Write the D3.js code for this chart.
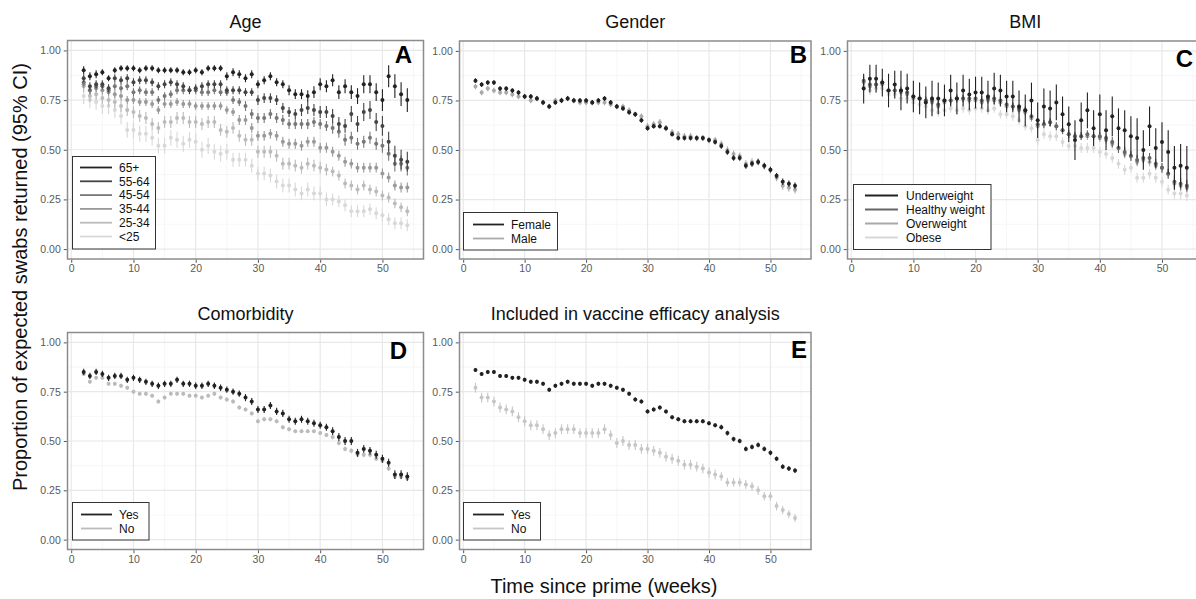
<!DOCTYPE html>
<html><head><meta charset="utf-8">
<script src="https://cdn.jsdelivr.net/npm/d3@7"></script>
<style>body{margin:0;background:#fff} text{font-family:"Liberation Sans",Arial,sans-serif}</style>
</head><body><svg id="c" width="1196" height="599"></svg>
<script>
const weeks = [2,3,4,5,6,7,8,9,10,11,12,13,14,15,16,17,18,19,20,21,22,23,24,25,26,27,28,29,30,31,32,33,34,35,36,37,38,39,40,41,42,43,44,45,46,47,48,49,50,51,52,53,54];
const yTicks = [0, 0.25, 0.5, 0.75, 1];
const xTicks = [0, 10, 20, 30, 40, 50];

// ---- Panel A: Age ----
const ageGroups = ["65+","55-64","45-54","35-44","25-34","<25"];
const age65 = [0.90,0.87,0.88,0.89,0.86,0.90,0.91,0.91,0.91,0.90, 0.91,0.91,0.90,0.90,0.90,0.90,0.89,0.89,0.90,0.89, 0.91,0.91,0.91,0.87,0.89,0.88,0.86,0.88,0.83,0.85, 0.87,0.84,0.83,0.80,0.78,0.78,0.77,0.79,0.83,0.82, 0.85,0.79,0.82,0.79,0.77,0.83,0.83,0.79,0.75,0.87, 0.82,0.78,0.75];
const age65ci = [.02,.02,.02,.015,.015,.015,.015,.015,.015,.015, .015,.015,.015,.015,.015,.015,.015,.015,.015,.015, .015,.015,.015,.02,.02,.02,.02,.02,.02,.02, .02,.02,.02,.025,.025,.025,.03,.03,.03,.03, .03,.035,.035,.035,.04,.045,.045,.045,.055,.055, .06,.06,.06];
const age5564 = [0.86,0.82,0.83,0.83,0.81,0.86,0.85,0.86,0.84,0.85, 0.85,0.84,0.82,0.83,0.84,0.83,0.82,0.80,0.81,0.82, 0.83,0.83,0.83,0.80,0.80,0.80,0.79,0.79,0.75,0.76, 0.76,0.75,0.71,0.69,0.68,0.70,0.71,0.70,0.69,0.69, 0.67,0.63,0.62,0.68,0.63,0.69,0.70,0.64,0.62,0.54, 0.47,0.45,0.44];
const age5564ci = [.02,.02,.02,.02,.02,.02,.02,.02,.02,.02, .02,.02,.02,.02,.02,.02,.02,.02,.02,.02, .02,.02,.02,.02,.02,.02,.02,.02,.025,.025, .025,.025,.025,.025,.025,.03,.03,.03,.03,.03, .035,.035,.035,.04,.04,.045,.045,.045,.05,.05, .05,.05,.05];
const age4554 = [0.84,0.80,0.82,0.82,0.80,0.82,0.81,0.82,0.79,0.80, 0.79,0.79,0.75,0.77,0.78,0.80,0.80,0.80,0.80,0.79, 0.79,0.80,0.79,0.79,0.75,0.74,0.72,0.68,0.66,0.66, 0.68,0.66,0.65,0.63,0.63,0.63,0.63,0.64,0.63,0.62, 0.61,0.59,0.55,0.56,0.53,0.54,0.56,0.53,0.52,0.48, 0.43,0.43,0.41];
const age4554ci = [.02,.02,.02,.02,.02,.02,.02,.02,.02,.02, .02,.02,.02,.02,.02,.02,.02,.02,.02,.02, .02,.02,.02,.02,.02,.02,.025,.025,.025,.025, .025,.025,.025,.025,.025,.025,.025,.025,.025,.025, .03,.03,.03,.03,.03,.03,.03,.03,.035,.035, .04,.04,.04];
const age3544 = [0.83,0.80,0.81,0.80,0.79,0.78,0.77,0.75,0.75,0.74, 0.74,0.73,0.70,0.73,0.73,0.74,0.73,0.73,0.72,0.72, 0.72,0.72,0.72,0.70,0.69,0.65,0.65,0.61,0.57,0.57, 0.58,0.57,0.54,0.53,0.53,0.52,0.54,0.54,0.51,0.51, 0.49,0.47,0.44,0.43,0.41,0.41,0.41,0.41,0.38,0.36, 0.32,0.31,0.31];
const age3544ci = [.02,.02,.02,.02,.02,.02,.02,.02,.02,.02, .02,.02,.02,.02,.02,.02,.02,.02,.02,.02, .02,.02,.02,.02,.02,.025,.025,.025,.025,.025, .025,.025,.025,.025,.025,.025,.025,.025,.025,.025, .025,.025,.025,.025,.025,.025,.025,.025,.025,.025, .025,.025,.025];
const age2534 = [0.82,0.77,0.78,0.76,0.75,0.74,0.72,0.70,0.69,0.67, 0.66,0.63,0.61,0.64,0.64,0.66,0.66,0.64,0.64,0.63, 0.64,0.64,0.60,0.59,0.61,0.57,0.55,0.55,0.49,0.49, 0.49,0.47,0.43,0.43,0.42,0.41,0.43,0.42,0.41,0.40, 0.39,0.37,0.33,0.32,0.30,0.32,0.30,0.29,0.27,0.26, 0.23,0.21,0.19];
const age2534ci = [.03,.03,.03,.03,.03,.03,.03,.03,.03,.03, .03,.03,.03,.03,.03,.03,.03,.03,.03,.03, .03,.03,.03,.03,.03,.03,.03,.03,.03,.03, .03,.03,.03,.03,.03,.03,.03,.03,.03,.03, .025,.025,.025,.025,.025,.025,.025,.025,.025,.025, .025,.025,.025];
const ageU25 = [0.77,0.75,0.74,0.72,0.72,0.70,0.67,0.60,0.60,0.58, 0.58,0.56,0.52,0.52,0.56,0.55,0.53,0.55,0.54,0.50, 0.52,0.49,0.48,0.49,0.45,0.45,0.45,0.42,0.38,0.38, 0.37,0.34,0.32,0.32,0.30,0.28,0.30,0.28,0.28,0.25, 0.25,0.24,0.22,0.19,0.19,0.19,0.20,0.18,0.17,0.15, 0.13,0.13,0.12];
const ageU25ci = [.04,.04,.04,.04,.04,.04,.04,.04,.04,.04, .04,.04,.04,.04,.04,.04,.04,.04,.04,.04, .04,.04,.04,.04,.035,.035,.035,.035,.035,.035, .035,.035,.035,.035,.035,.035,.035,.035,.035,.035, .03,.03,.03,.03,.03,.03,.03,.03,.03,.03, .03,.03,.03];
const ageColors = ["#222222","#444444","#777777","#999999","#bbbbbb","#d8d8d8"];

// ---- Panel B: Gender ----
const genderGroups = ["Female","Male"];
const female = [0.85,0.83,0.84,0.84,0.81,0.81,0.80,0.79,0.77,0.77, 0.76,0.74,0.72,0.74,0.75,0.76,0.75,0.75,0.75,0.74, 0.75,0.76,0.74,0.72,0.71,0.69,0.68,0.65,0.61,0.62, 0.62,0.61,0.58,0.56,0.56,0.56,0.56,0.56,0.55,0.54, 0.52,0.49,0.46,0.46,0.42,0.43,0.44,0.42,0.40,0.37, 0.34,0.33,0.32];
const femaleCi = [.012,.012,.012,.012,.012,.012,.012,.012,.012,.012, .012,.012,.012,.012,.012,.012,.012,.012,.012,.012, .012,.012,.012,.012,.012,.012,.012,.012,.012,.012, .012,.012,.012,.012,.012,.012,.012,.012,.012,.012, .014,.014,.014,.014,.014,.014,.014,.014,.014,.014, .016,.016,.016];
const male = [0.82,0.79,0.81,0.80,0.79,0.79,0.78,0.77,0.77,0.75, 0.76,0.74,0.72,0.75,0.75,0.76,0.75,0.74,0.74,0.74, 0.74,0.74,0.73,0.72,0.72,0.70,0.68,0.67,0.62,0.63, 0.64,0.61,0.59,0.58,0.57,0.57,0.56,0.56,0.55,0.55, 0.53,0.50,0.48,0.47,0.43,0.44,0.44,0.42,0.40,0.36, 0.32,0.31,0.30];
const maleCi = [.014,.014,.014,.014,.014,.014,.014,.014,.014,.014, .014,.014,.014,.014,.014,.014,.014,.014,.014,.014, .014,.014,.014,.014,.014,.014,.014,.014,.016,.016, .016,.016,.016,.016,.016,.016,.016,.016,.016,.016, .018,.018,.018,.018,.018,.018,.018,.018,.018,.018, .02,.02,.02];
const genderColors = ["#222222","#aaaaaa"];

// ---- Panel C: BMI ----
const bmiGroups = ["Underweight","Healthy weight","Overweight","Obese"];
const under = [0.81,0.86,0.86,0.84,0.80,0.83,0.80,0.81,0.77,0.76, 0.74,0.76,0.76,0.75,0.80,0.76,0.80,0.78,0.79,0.79, 0.77,0.81,0.80,0.77,0.77,0.72,0.70,0.75,0.65,0.72, 0.71,0.74,0.68,0.63,0.55,0.65,0.70,0.61,0.68,0.60, 0.67,0.61,0.60,0.57,0.56,0.50,0.62,0.51,0.54,0.49, 0.41,0.42,0.41];
const underCi = [.075,.07,.07,.07,.085,.07,.1,.075,.08,.08, .08,.09,.08,.08,.08,.08,.08,.08,.08,.08, .08,.08,.08,.08,.08,.08,.08,.09,.09,.09, .09,.09,.09,.09,.1,.09,.09,.09,.1,.1, .1,.1,.1,.1,.1,.1,.1,.1,.1,.11, .11,.11,.11];
const healthy = [0.85,0.83,0.83,0.84,0.80,0.80,0.80,0.79,0.77,0.76, 0.75,0.75,0.73,0.75,0.75,0.76,0.76,0.76,0.76,0.75, 0.76,0.76,0.75,0.73,0.72,0.71,0.70,0.67,0.63,0.63, 0.64,0.62,0.60,0.58,0.57,0.57,0.58,0.57,0.57,0.56, 0.54,0.51,0.49,0.47,0.45,0.46,0.46,0.43,0.41,0.38, 0.34,0.33,0.32];
const healthyCi = [.02,.02,.02,.02,.02,.02,.02,.02,.02,.02, .02,.02,.02,.02,.02,.02,.02,.02,.02,.02, .02,.02,.02,.02,.02,.02,.02,.02,.02,.02, .02,.02,.02,.02,.02,.02,.02,.02,.02,.02, .025,.025,.025,.025,.025,.025,.025,.025,.025,.025, .03,.03,.03];
const over = [0.84,0.82,0.83,0.83,0.80,0.80,0.79,0.78,0.76,0.76, 0.75,0.74,0.72,0.74,0.75,0.76,0.76,0.75,0.75,0.74, 0.75,0.75,0.74,0.72,0.72,0.70,0.69,0.66,0.62,0.63, 0.64,0.62,0.60,0.58,0.57,0.57,0.57,0.57,0.56,0.55, 0.53,0.51,0.48,0.47,0.44,0.45,0.44,0.42,0.41,0.38, 0.33,0.32,0.31];
const overCi = [.018,.018,.018,.018,.018,.018,.018,.018,.018,.018, .018,.018,.018,.018,.018,.018,.018,.018,.018,.018, .018,.018,.018,.018,.018,.018,.018,.018,.02,.02, .02,.02,.02,.02,.02,.02,.02,.02,.02,.02, .022,.022,.022,.022,.022,.022,.022,.022,.022,.022, .025,.025,.025];
const obese = [0.82,0.80,0.81,0.81,0.78,0.78,0.76,0.76,0.74,0.73, 0.72,0.70,0.69,0.70,0.71,0.70,0.71,0.70,0.71,0.71, 0.70,0.71,0.68,0.68,0.67,0.65,0.62,0.61,0.55,0.58, 0.57,0.57,0.54,0.52,0.52,0.51,0.51,0.51,0.49,0.48, 0.46,0.43,0.40,0.41,0.36,0.36,0.38,0.36,0.34,0.30, 0.28,0.28,0.27];
const obeseCi = [.022,.022,.022,.022,.022,.022,.022,.022,.022,.022, .022,.022,.022,.022,.022,.022,.022,.022,.022,.022, .022,.022,.022,.022,.022,.022,.022,.022,.025,.025, .025,.025,.025,.025,.025,.025,.025,.025,.025,.025, .025,.025,.025,.025,.025,.025,.025,.025,.025,.025, .028,.028,.028];
const bmiColors = ["#222222","#666666","#a8a8a8","#d8d8d8"];

// ---- Panel D: Comorbidity ----
const comorbGroups = ["Yes","No"];
const comorbYes = [0.85,0.83,0.85,0.84,0.82,0.83,0.83,0.81,0.82,0.81, 0.80,0.79,0.78,0.79,0.79,0.81,0.79,0.79,0.78,0.78, 0.79,0.78,0.77,0.76,0.75,0.74,0.72,0.70,0.66,0.66, 0.68,0.65,0.64,0.61,0.60,0.61,0.60,0.59,0.58,0.57, 0.55,0.52,0.50,0.50,0.44,0.46,0.45,0.43,0.41,0.39, 0.33,0.33,0.32];
const comorbYesCi = [.016,.016,.016,.016,.016,.016,.016,.016,.016,.016, .016,.016,.016,.016,.016,.016,.016,.016,.016,.016, .016,.016,.016,.016,.016,.016,.018,.018,.018,.018, .018,.018,.018,.018,.018,.018,.018,.018,.018,.018, .02,.02,.02,.02,.02,.02,.02,.02,.02,.02, .022,.022,.022];
const comorbNo = [0.84,0.80,0.82,0.82,0.79,0.79,0.78,0.77,0.75,0.74, 0.74,0.73,0.70,0.72,0.74,0.74,0.74,0.73,0.73,0.72, 0.73,0.74,0.72,0.71,0.70,0.67,0.66,0.64,0.60,0.61, 0.61,0.60,0.57,0.56,0.55,0.55,0.55,0.55,0.54,0.53, 0.52,0.49,0.46,0.45,0.43,0.43,0.43,0.41,0.40,0.36, 0.32,0.32,0.31];
const comorbNoCi = [.01,.01,.01,.01,.01,.01,.01,.01,.01,.01, .01,.01,.01,.01,.01,.01,.01,.01,.01,.01, .01,.01,.01,.01,.01,.01,.01,.01,.01,.01, .01,.01,.01,.01,.01,.01,.01,.01,.01,.01, .012,.012,.012,.012,.012,.012,.012,.012,.012,.012, .014,.014,.014];
const comorbColors = ["#222222","#bbbbbb"];

// ---- Panel E: Included in vaccine efficacy analysis ----
const vaccGroups = ["Yes","No"];
const vaccYes = [0.86,0.84,0.85,0.85,0.83,0.83,0.82,0.82,0.81,0.80, 0.80,0.79,0.76,0.78,0.79,0.80,0.79,0.79,0.79,0.78, 0.79,0.79,0.78,0.77,0.76,0.74,0.71,0.70,0.65,0.66, 0.67,0.65,0.62,0.61,0.60,0.60,0.60,0.60,0.59,0.58, 0.57,0.54,0.51,0.50,0.46,0.47,0.48,0.46,0.44,0.41, 0.37,0.36,0.35];
const vaccYesCi = [.01,.01,.01,.01,.01,.01,.01,.01,.01,.01, .01,.01,.01,.01,.01,.01,.01,.01,.01,.01, .01,.01,.01,.01,.01,.01,.01,.01,.01,.01, .01,.01,.01,.01,.01,.01,.01,.01,.01,.01, .012,.012,.012,.012,.012,.012,.012,.012,.012,.012, .012,.012,.012];
const vaccNo = [0.77,0.72,0.72,0.70,0.67,0.66,0.65,0.62,0.60,0.58, 0.58,0.56,0.53,0.54,0.56,0.56,0.56,0.54,0.54,0.54, 0.54,0.56,0.53,0.49,0.50,0.48,0.48,0.46,0.46,0.45, 0.44,0.42,0.41,0.40,0.38,0.38,0.37,0.36,0.34,0.33, 0.32,0.29,0.29,0.29,0.28,0.27,0.25,0.22,0.22,0.17, 0.15,0.13,0.11];
const vaccNoCi = [.025,.025,.025,.025,.025,.025,.025,.025,.025,.025, .025,.025,.025,.025,.025,.025,.025,.025,.025,.025, .025,.025,.025,.025,.025,.025,.025,.025,.025,.025, .025,.025,.025,.025,.025,.025,.025,.025,.025,.025, .022,.022,.022,.022,.022,.022,.022,.022,.022,.022, .02,.02,.02];
const vaccColors = ["#222222","#c6c6c6"];

const svg = d3.select("#c");
svg.append("rect").attr("width",1196).attr("height",599).attr("fill","#fff");

function drawPanel(p) {
  const x = d3.scaleLinear().domain([-0.6, 56.6]).range([p.left, p.right]);
  const y = d3.scaleLinear().domain([-0.05, 1.05]).range([p.bottom, p.top]);
  const g = svg.append("g");
  const grid = g.append("g");
  const xMinor = [5,15,25,35,45,55], yMinor = [0.125,0.375,0.625,0.875];
  grid.selectAll(".xmi").data(xMinor).join("line").attr("x1",d=>x(d)).attr("x2",d=>x(d)).attr("y1",p.top).attr("y2",p.bottom).attr("stroke","#f4f4f4").attr("stroke-width",0.8);
  grid.selectAll(".ymi").data(yMinor).join("line").attr("y1",d=>y(d)).attr("y2",d=>y(d)).attr("x1",p.left).attr("x2",p.right).attr("stroke","#f4f4f4").attr("stroke-width",0.8);
  grid.selectAll(".xma").data(xTicks).join("line").attr("x1",d=>x(d)).attr("x2",d=>x(d)).attr("y1",p.top).attr("y2",p.bottom).attr("stroke","#e8e8e8").attr("stroke-width",1.2);
  grid.selectAll(".yma").data(yTicks).join("line").attr("y1",d=>y(d)).attr("y2",d=>y(d)).attr("x1",p.left).attr("x2",p.right).attr("stroke","#e8e8e8").attr("stroke-width",1.2);

  // series, lightest first so darker sit on top
  for (let i = p.values.length - 1; i >= 0; i--) {
    const vals = p.values[i], cis = p.cis[i], col = p.colors[i];
    const data = weeks.map((w, j) => ({w, v: vals[j], e: cis[j]}));
    const sg = g.append("g");
    sg.selectAll("line").data(data).join("line")
      .attr("x1", d => x(d.w)).attr("x2", d => x(d.w))
      .attr("y1", d => y(d.v - d.e)).attr("y2", d => y(d.v + d.e))
      .attr("stroke", col).attr("stroke-width", 1.1);
    sg.selectAll("circle").data(data).join("circle")
      .attr("cx", d => x(d.w)).attr("cy", d => y(d.v)).attr("r", 2)
      .attr("fill", col);
  }

  g.append("rect").attr("x",p.left).attr("y",p.top).attr("width",p.right-p.left).attr("height",p.bottom-p.top)
    .attr("fill","none").attr("stroke","#8c8c8c").attr("stroke-width",1.5);

  const ya = g.append("g").attr("transform",`translate(${p.left - 0.75},0)`)
    .call(d3.axisLeft(y).tickValues(yTicks).tickFormat(d3.format(".2f")).tickSize(3).tickPadding(3));
  const xa = g.append("g").attr("transform",`translate(0,${p.bottom + 0.75})`)
    .call(d3.axisBottom(x).tickValues(xTicks).tickFormat(d3.format("d")).tickSize(3).tickPadding(2));
  [ya, xa].forEach(a => {
    a.select(".domain").remove();
    a.selectAll(".tick line").attr("stroke","#555");
    a.selectAll(".tick text").attr("fill","#5a5a5a").style("font-size","10.5px").style("font-family",'"Liberation Sans",Arial,sans-serif');
  });

  g.append("text").attr("x",(p.left+p.right)/2).attr("y",p.titleY).attr("text-anchor","middle")
    .style("font-size","18px").attr("fill","#111").text(p.title);
  g.append("text").attr("x",p.letterX).attr("y",p.letterY).attr("text-anchor","end")
    .style("font-size","24px").style("font-weight","bold").attr("fill","#000").text(p.letter);

  // legend
  const L = p.legend;
  const lg = g.append("g");
  lg.append("rect").attr("x",L.x).attr("y",L.y).attr("width",L.w).attr("height",L.h)
    .attr("fill","#fff").attr("stroke","#333").attr("stroke-width",1);
  p.groups.forEach((name, i) => {
    const ry = L.rowY + i * L.step;
    lg.append("line").attr("x1",L.lx1).attr("x2",L.lx2).attr("y1",ry).attr("y2",ry)
      .attr("stroke",p.colors[i]).attr("stroke-width",1.8);
    lg.append("text").attr("x",L.tx).attr("y",ry).attr("dy","0.35em")
      .style("font-size","12px").attr("fill","#111").text(name);
  });
}

drawPanel({left:67.5,right:423.5,top:40.5,bottom:259,title:"Age",titleY:28,letter:"A",letterX:412,letterY:63,
  groups:ageGroups,values:[age65,age5564,age4554,age3544,age2534,ageU25],
  cis:[age65ci,age5564ci,age4554ci,age3544ci,age2534ci,ageU25ci],colors:ageColors,
  legend:{x:72.5,y:156.5,w:83,h:92.5,rowY:167.5,step:13.8,lx1:80,lx2:112,tx:119}});
drawPanel({left:459.5,right:811,top:41,bottom:259,title:"Gender",titleY:28,letter:"B",letterX:807,letterY:63,
  groups:genderGroups,values:[female,male],cis:[femaleCi,maleCi],colors:genderColors,
  legend:{x:463.5,y:212.5,w:94,h:37.5,rowY:224.5,step:14,lx1:473,lx2:504,tx:511}});
drawPanel({left:847.5,right:1203,top:41,bottom:259,title:"BMI",titleY:28,letter:"C",letterX:1193,letterY:67,
  groups:bmiGroups,values:[under,healthy,over,obese],cis:[underCi,healthyCi,overCi,obeseCi],colors:bmiColors,
  legend:{x:853.5,y:184.5,w:137.5,h:65,rowY:195.5,step:14,lx1:865,lx2:898,tx:906}});
drawPanel({left:67.5,right:423.5,top:332.5,bottom:549.5,title:"Comorbidity",titleY:320,letter:"D",letterX:407,letterY:359,
  groups:comorbGroups,values:[comorbYes,comorbNo],cis:[comorbYesCi,comorbNoCi],colors:comorbColors,
  legend:{x:72.5,y:502.5,w:76.5,h:37.5,rowY:514.5,step:14,lx1:81,lx2:112,tx:119}});
drawPanel({left:459.5,right:811,top:332.5,bottom:549.5,title:"Included in vaccine efficacy analysis",titleY:320,letter:"E",letterX:807,letterY:358,
  groups:vaccGroups,values:[vaccYes,vaccNo],cis:[vaccYesCi,vaccNoCi],colors:vaccColors,
  legend:{x:463.5,y:502.5,w:77,h:37.5,rowY:514.5,step:14,lx1:473,lx2:504,tx:511}});

svg.append("text").attr("transform","translate(27,277) rotate(-90)").attr("text-anchor","middle")
  .style("font-size","20px").attr("fill","#111").text("Proportion of expected swabs returned (95% CI)");
svg.append("text").attr("x",604).attr("y",593).attr("text-anchor","middle")
  .style("font-size","20px").attr("fill","#111").text("Time since prime (weeks)");
</script></body></html>
